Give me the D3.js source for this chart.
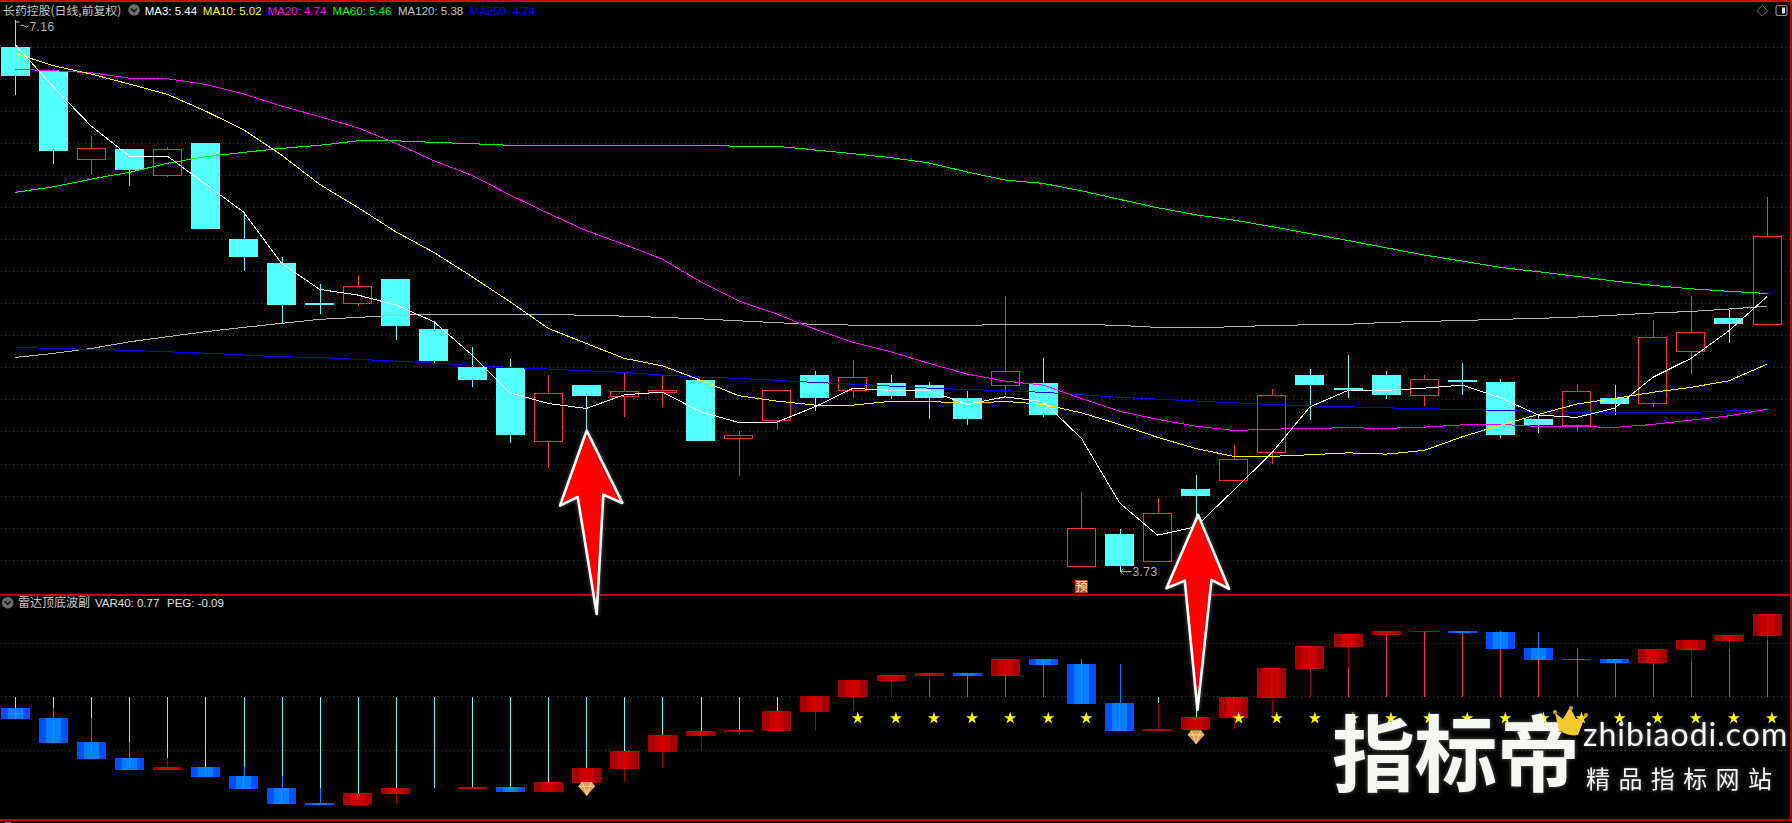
<!DOCTYPE html>
<html><head><meta charset="utf-8">
<script src="https://cdn.jsdelivr.net/npm/d3@7/dist/d3.min.js"></script>
<style>html,body{margin:0;padding:0;background:#000;overflow:hidden}svg{display:block}</style>
</head><body><div id="c"></div>
<script>
// ---------- price panel data ----------
const open  = [6.990,6.843,6.294,6.358,6.192,6.395,5.798,5.649,5.402,5.396,5.549,5.238,5.002,4.998,4.538,4.890,4.817,4.848,4.921,4.556,4.668,4.952,4.855,4.901,4.890,4.809,4.886,4.901,3.760,3.964,3.797,4.243,4.299,4.469,4.952,4.871,4.952,4.824,4.921,4.909,4.679,4.637,4.809,4.774,5.097,5.307,5.265];
const close = [6.807,6.347,6.362,6.227,6.356,5.860,5.686,5.388,5.390,5.504,5.259,5.039,4.921,4.579,4.839,4.822,4.851,4.859,4.542,4.577,4.857,4.809,4.938,4.822,4.809,4.681,4.975,4.704,3.999,3.766,4.098,4.202,4.428,4.826,4.890,4.857,4.828,4.925,4.909,4.579,4.641,4.851,4.772,5.187,5.218,5.269,5.815];
const high  = [7.160,6.843,6.439,6.358,6.372,6.395,5.966,5.686,5.518,5.574,5.549,5.288,5.126,5.052,4.952,4.890,4.967,4.946,4.921,4.604,4.857,4.977,5.046,4.952,4.909,4.853,5.444,5.056,4.225,3.995,4.187,4.330,4.517,4.865,4.990,5.077,4.977,4.952,5.027,4.927,4.704,4.896,4.890,5.294,5.444,5.357,6.059];
const low   = [6.694,6.265,6.196,6.128,6.184,5.860,5.599,5.274,5.332,5.381,5.170,5.029,4.880,4.529,4.374,4.610,4.693,4.755,4.542,4.326,4.612,4.730,4.809,4.803,4.681,4.641,4.828,4.693,3.760,3.730,3.797,4.075,4.299,4.399,4.672,4.809,4.803,4.760,4.828,4.561,4.592,4.604,4.704,4.753,4.959,5.151,5.265];
const ma3   = [7.009,6.745,6.501,6.314,6.314,6.140,5.966,5.647,5.485,5.450,5.388,5.284,5.077,4.842,4.776,4.745,4.830,4.847,4.724,4.658,4.660,4.755,4.870,4.857,4.857,4.770,4.817,4.786,4.559,4.158,3.957,4.009,4.237,4.469,4.755,4.857,4.857,4.871,4.890,4.811,4.704,4.689,4.747,4.938,5.056,5.228,5.44];
const ma10  = [6.953,6.876,6.824,6.762,6.698,6.594,6.478,6.320,6.138,5.995,5.843,5.715,5.564,5.408,5.243,5.149,5.056,5.010,4.921,4.824,4.791,4.766,4.766,4.789,4.789,4.776,4.789,4.770,4.718,4.646,4.565,4.496,4.447,4.447,4.457,4.469,4.461,4.484,4.569,4.641,4.708,4.772,4.807,4.845,4.876,4.917,5.02];
const ma20  = [6.853,6.845,6.832,6.798,6.795,6.760,6.700,6.625,6.559,6.490,6.393,6.285,6.194,6.072,5.958,5.850,5.765,5.672,5.533,5.413,5.332,5.238,5.156,5.097,5.025,4.959,4.915,4.890,4.807,4.728,4.677,4.635,4.608,4.616,4.621,4.625,4.621,4.629,4.643,4.646,4.633,4.633,4.627,4.646,4.672,4.699,4.74];
const ma60  = [6.088,6.123,6.171,6.213,6.269,6.310,6.337,6.362,6.381,6.409,6.409,6.399,6.391,6.381,6.381,6.381,6.381,6.381,6.381,6.375,6.375,6.352,6.329,6.304,6.271,6.215,6.165,6.144,6.098,6.045,5.993,5.949,5.916,5.875,5.832,5.789,5.744,5.699,5.661,5.622,5.595,5.566,5.537,5.510,5.489,5.473,5.46];
const ma120 = [5.062,5.087,5.118,5.159,5.191,5.222,5.249,5.274,5.299,5.311,5.324,5.330,5.330,5.330,5.330,5.324,5.319,5.311,5.302,5.290,5.278,5.268,5.263,5.261,5.261,5.261,5.268,5.268,5.268,5.261,5.249,5.246,5.253,5.261,5.265,5.268,5.280,5.286,5.292,5.299,5.305,5.313,5.325,5.338,5.348,5.363,5.38];
const ma250 = [5.125,5.118,5.112,5.106,5.097,5.089,5.077,5.066,5.062,5.050,5.039,5.027,5.013,5.000,4.990,4.979,4.969,4.952,4.940,4.932,4.919,4.907,4.896,4.884,4.871,4.863,4.855,4.845,4.830,4.814,4.803,4.791,4.780,4.770,4.761,4.755,4.749,4.743,4.739,4.733,4.726,4.722,4.720,4.720,4.720,4.730,4.74];
const priceGrid = [6.990,6.791,6.592,6.393,6.194,5.995,5.796,5.597,5.398,5.199,5.000,4.801,4.602,4.397,4.198,3.999,3.800];
const maNames  = ["MA3","MA10","MA20","MA60","MA120","MA250"];
const maLabels = ["5.44","5.02","4.74","5.46","5.38","4.74"];

// ---------- oscillator panel data ----------
const oscTop = [-.106,-.200,-.424,-.574,-.659,-.659,-.743,-.855,-.996,-.902,-.855,-.855,-.846,-.846,-.799,-.668,-.509,-.359,-.321,-.312,-.134,.006,.156,.203,.222,.222,.353,.353,.306,-.059,-.303,-.190,-.003,.268,.474,.587,.615,.615,.615,.605,.456,.353,.353,.446,.531,.577,.774];
const oscBot = [-.209,-.434,-.584,-.687,-.687,-.752,-.865,-1.005,-1.014,-1.014,-.911,-.855,-.865,-.893,-.893,-.808,-.677,-.518,-.368,-.331,-.321,-.144,-.003,.147,.194,.194,.194,.297,-.069,-.321,-.321,-.312,-.200,-.012,.259,.465,.577,.605,.596,.446,.343,.343,.315,.315,.437,.521,.568];
const oscDir = [-1,-1,-1,-1,1,-1,-1,-1,-1,1,1,1,1,-1,1,1,1,1,1,1,1,1,1,1,1,-1,1,-1,-1,-1,1,1,1,1,1,1,1,1,-1,-1,-1,-1,-1,1,1,1,1];
const stickEnd = [-.106,-.106,-.200,-.424,-.574,-.659,-.659,-.743,-.855,-.902,-.855,-.855,-.846,-.846,-.799,-.668,-.509,-.359,-.321,-.312,-.134,0,0,0,.156,.194,.194,.203,0,0,-.059,-.190,0,0,0,.268,.577,.605,.596,.446,.343,.343,.315,.315,.325,.446,.531];
const tailA = [0,-.106,-.200,-.424,-.574,0,-.659,-.743,-.855,0,-.911,0,0,0,0,0,-.677,-.518,-.368,-.331,0,-.144,-.003,.147,.194,0,0,.297,.353,.306,-.059,0,-.200,-.012,.259,.465,0,0,0,.615,.605,.456,0,0,.437,.521,.568];
const tailB = [0,-.200,-.424,-.574,-.659,0,-.743,-.855,-.996,0,-1.005,0,0,0,0,0,-.799,-.668,-.499,-.359,0,-.312,-.134,0,.156,0,0,.203,.306,-.059,-.303,0,-.303,-.190,0,.268,0,0,0,.605,.456,.353,0,0,.325,.446,.531];
const starIndex = [22,23,24,25,26,27,28,32,33,34,35,36,37,38,39,40,41,42,43,44,45,46];
const starLevel = -.202;
const gemIndex = [15,31];
const gemLevel = [-.858,-.375];
const oscGrid = [.5,0,-.5];

// ---------- scales ----------
const W=1792,H=823;
const x=d3.scaleLinear().domain([0,46]).range([15,1767]);
const y=d3.scaleLinear().domain([7.16,3.73]).range([20,571.7]);
const yo=d3.scaleLinear().domain([0,1]).range([696.7,589.9]);
const idx=d3.range(open.length);
const px=v=>Math.round(v)+.5;
const bodyX=i=>Math.round(x(i)-14.5);

const CYAN="#54ffff",RED="#ff3232";
const CJK='"Noto Sans CJK SC"', LAT='"Liberation Sans",Arial';

const svg=d3.select("#c").append("svg").attr("width",W).attr("height",H).style("background","#000");
const defs=svg.append("defs");
function stripes(id,a,b,c){
  const g=defs.append("linearGradient").attr("id",id).attr("x1",0).attr("x2",1).attr("y1",0).attr("y2",0);
  [[0,a],[.24,a],[.24,b],[.49,b],[.49,c],[.52,c],[.52,b],[.76,b],[.76,a],[1,a]].forEach(s=>g.append("stop").attr("offset",s[0]).attr("stop-color",s[1]));
}
stripes("gb","#0050ff","#0080ff","#1a90ff");
stripes("gr","#a80000","#c80000","#e60000");
const glow=defs.append("filter").attr("id","glow").attr("x","-30%").attr("y","-30%").attr("width","160%").attr("height","160%");
glow.append("feDropShadow").attr("dx",0).attr("dy",0).attr("stdDeviation",2.2).attr("flood-color","#fff").attr("flood-opacity",.38);

// ---------- grids ----------
const dot={stroke:"#a00c0c","stroke-width":1,"stroke-dasharray":"1 3","shape-rendering":"crispEdges"};
function grid(vals,sc){
  const g=svg.append("g").selectAll("line").data(vals).join("line")
    .attr("x1",1).attr("x2",1790).attr("y1",d=>px(sc(d)-.5)).attr("y2",d=>px(sc(d)-.5));
  for(const k in dot) g.attr(k,dot[k]);
}
grid(priceGrid,y); grid(oscGrid,yo);

// ---------- candles ----------
const cg=svg.append("g").attr("shape-rendering","crispEdges");
const up=i=>close[i]>=open[i];
cg.selectAll("line.w").data(idx).join("line").attr("class","w")
  .attr("x1",i=>px(x(i))).attr("x2",i=>px(x(i))).attr("y1",i=>y(high[i])).attr("y2",i=>y(low[i]))
  .attr("stroke",i=>up(i)?RED:CYAN).attr("stroke-width",1);
cg.selectAll("rect").data(idx).join("rect")
  .attr("x",i=>bodyX(i)+(up(i)?.5:0))
  .attr("width",i=>up(i)?28:29)
  .attr("y",i=>Math.round(y(Math.max(open[i],close[i])))+(up(i)?.5:0))
  .attr("height",i=>Math.max(2,Math.round(Math.abs(y(open[i])-y(close[i])))))
  .attr("fill",i=>up(i)?"#000":CYAN)
  .attr("stroke",i=>up(i)?RED:"none").attr("stroke-width",1);

// ---------- moving averages ----------
const line=d3.line().x((d,i)=>x(i)).y(d=>y(d));
[[ma60,"#00ff00"],[ma120,"#b4b4b4"],[ma250,"#0000ff"],[ma20,"#ff00ff"],[ma10,"#ffff00"],[ma3,"#ffffff"]].forEach(s=>{
  svg.append("path").attr("d",line(s[0])).attr("fill","none").attr("stroke",s[1]).attr("stroke-width",1).attr("shape-rendering","crispEdges");
});

// extremes
svg.append("path").attr("d",`M${px(x(0))} ${y(7.16)+2}h4M${px(x(0))} ${y(7.16)+2}v6M${px(x(0))+5} ${y(7.16)+6}q2 -2 4 0t4 0`).attr("fill","none").attr("stroke","#c8c8c8");
svg.append("text").attr("x",x(0)+14.5).attr("y",y(7.16)+10.5).attr("fill","#b4b4b4").attr("font-family",LAT).attr("font-size",12).attr("letter-spacing",.4).text(d3.format(".2f")(7.16));
const lowI=low.indexOf(d3.min(low));
svg.append("path").attr("d",`M${x(lowI)+1} ${y(3.73)}h11M${x(lowI)+1} ${y(3.73)}l3 -3M${x(lowI)+1} ${y(3.73)}l3 3`).attr("fill","none").attr("stroke","#c8c8c8").attr("stroke-width",1);
svg.append("text").attr("x",x(lowI)+13).attr("y",y(3.73)+4.5).attr("fill","#b4b4b4").attr("font-family",LAT).attr("font-size",12).attr("letter-spacing",.4).text(d3.format(".2f")(3.73));

// 预 badge
svg.append("rect").attr("x",x(28)-6.7).attr("y",580).attr("width",13).attr("height",13).attr("fill","#b84a10");
svg.append("text").attr("x",x(28)).attr("y",591).attr("text-anchor","middle").attr("fill","#fff").attr("font-family",CJK).attr("font-size",12).text("预");

// ---------- oscillator ----------
const og=svg.append("g").attr("shape-rendering","crispEdges");
og.selectAll("line.b").data(idx).join("line").attr("class","b")
  .attr("x1",i=>px(x(i))).attr("x2",i=>px(x(i))).attr("y1",yo(0)).attr("y2",i=>yo(stickEnd[i]))
  .attr("stroke",i=>stickEnd[i]<0?CYAN:RED).attr("stroke-width",1);
og.selectAll("line.t").data(idx.filter(i=>tailA[i]!==tailB[i])).join("line").attr("class","t")
  .attr("x1",i=>px(x(i))).attr("x2",i=>px(x(i))).attr("y1",i=>yo(tailA[i])).attr("y2",i=>yo(tailB[i]))
  .attr("stroke",i=>oscDir[i]>0?"#a00000":"#0080ff").attr("stroke-width",1);
og.selectAll("rect").data(idx.filter(i=>oscTop[i]!==oscBot[i])).join("rect")
  .attr("x",bodyX).attr("width",29)
  .attr("y",i=>Math.round(yo(oscTop[i]))).attr("height",i=>Math.max(1,Math.round(yo(oscBot[i])-yo(oscTop[i]))))
  .attr("fill",i=>oscDir[i]>0?"url(#gr)":"url(#gb)");

// stars & gems
svg.append("g").selectAll("path").data(starIndex).join("path")
  .attr("d",d3.symbol(d3.symbolStar,46))
  .attr("transform",i=>`translate(${x(i)+4.9},${yo(starLevel)})`).attr("fill","#ffff00");
const gems=svg.append("g").selectAll("g").data(gemIndex).join("g")
  .attr("transform",(i,k)=>`translate(${x(i)+.4},${yo(gemLevel[k])})`);
gems.append("path").attr("d","M-5 -6H5L8 -2L0 7L-8 -2Z").attr("fill","#ee9a48").attr("stroke","#f7c07f").attr("stroke-width",.7);
gems.append("path").attr("d","M-8 -2H8M-3 -2L0 7L3 -2M-5 -6L-3 -2M5 -6L3 -2").attr("fill","none").attr("stroke","#ffe6c4").attr("stroke-width",.8);

// ---------- frame ----------
const frame=svg.append("g").attr("shape-rendering","crispEdges");
frame.append("rect").attr("x",0).attr("y",0).attr("width",W).attr("height",2).attr("fill","#d40000");
frame.append("rect").attr("x",1790).attr("y",0).attr("width",2).attr("height",820).attr("fill","#b40000");
[594,819].forEach(v=>frame.append("rect").attr("x",0).attr("y",v).attr("width",W).attr("height",1.5).attr("fill","#c00000"));

// top-right icons
svg.append("path").attr("d","M1762.3 5.3l5.4 5.4l-5.4 5.4l-5.4 -5.4Z").attr("fill","none").attr("stroke","#777");
svg.append("rect").attr("x",1776).attr("y",5.5).attr("width",11).attr("height",10).attr("rx",2).attr("fill","#000").attr("stroke","#8a8a8a").attr("stroke-width",1.2);
svg.append("rect").attr("x",1782).attr("y",7.5).attr("width",3).attr("height",6).attr("fill","#d8d8d8");

// ---------- headers ----------
function chevron(cx,cy){
  svg.append("circle").attr("cx",cx).attr("cy",cy).attr("r",5.8).attr("fill","#6e6e6e");
  svg.append("path").attr("d",`M${cx-3} ${cy-1.5}l3 3l3 -3`).attr("fill","none").attr("stroke","#111").attr("stroke-width",1.6);
}
svg.append("text").attr("x",3).attr("y",14.5).attr("fill","#c8c8c8").attr("font-family",CJK).attr("font-size",11.9).text("长药控股(日线,前复权)");
chevron(134,10);
const maX=[144.7,202.8,267.5,332.6,398,469.6], maC=["#ffffff","#ffff00","#ff00ff","#00ff00","#c8c8c8","#0000ff"];
maNames.forEach((n,i)=>svg.append("text").attr("x",maX[i]).attr("y",14.5).attr("fill",maC[i]).attr("font-family",LAT).attr("font-size",11.5).text(`${n}: ${maLabels[i]}`));
chevron(7.7,602.7);
svg.append("text").attr("x",18).attr("y",607.3).attr("fill","#c8c8c8").attr("font-family",CJK).attr("font-size",12).text("雷达顶底波副");
svg.append("text").attr("x",95).attr("y",607).attr("fill","#e0e0e0").attr("font-family",LAT).attr("font-size",11.5).text("VAR40: 0.77");
svg.append("text").attr("x",167).attr("y",607).attr("fill","#e0e0e0").attr("font-family",LAT).attr("font-size",11.5).text("PEG: -0.09");
svg.append("circle").attr("cx",8).attr("cy",827).attr("r",5.8).attr("fill","#6e6e6e");

// ---------- annotation arrows ----------
const arrows=[
  {i:15,dx:.4,v:4.607,shape:[[0,0],[35.6,72.3],[16.6,64],[10,183.3],[-9,66.3],[-26.7,75]]},
  {i:31,dx:2.4,v:4.083,shape:[[0,0],[31,74],[13.4,65],[-.6,195],[-13.3,65.7],[-31.6,73.3]]}
];
svg.append("g").selectAll("path").data(arrows).join("path")
  .attr("transform",d=>`translate(${x(d.i)+d.dx},${y(d.v)})`)
  .attr("d",d=>d3.line().curve(d3.curveLinearClosed)(d.shape))
  .attr("fill","#ff0000").attr("stroke","#fff").attr("stroke-width",2.6).attr("stroke-linejoin","round").attr("filter","url(#glow)");

// ---------- watermark ----------
const wm=svg.append("g").attr("filter","url(#glow)");
wm.append("text").attr("x",1332).attr("y",785).attr("fill","#f6f8f4").attr("font-family",CJK).attr("font-weight",700).attr("font-size",83).attr("letter-spacing",-.5).text("指标帝");
wm.append("text").attr("x",1583).attr("y",746).attr("fill","#f6f8f4").attr("font-family",'"Lato"').attr("font-size",32).attr("letter-spacing",1).text("zhibiaodi.com");
wm.append("text").attr("x",1586).attr("y",788).attr("fill","#f6f8f4").attr("font-family",CJK).attr("font-size",24).attr("letter-spacing",8.4).text("精品指标网站");
const crown=svg.append("g");
crown.append("path").attr("d","M1559 730L1555 713L1563 719L1570 707L1576 719L1585 717L1578 735Q1568 737 1559 730Z").attr("fill","#f2c930");
[[1555,712],[1571,708],[1586,715]].forEach(p=>crown.append("circle").attr("cx",p[0]).attr("cy",p[1]).attr("r",2).attr("fill","#e0a020"));
</script>
</body></html>
